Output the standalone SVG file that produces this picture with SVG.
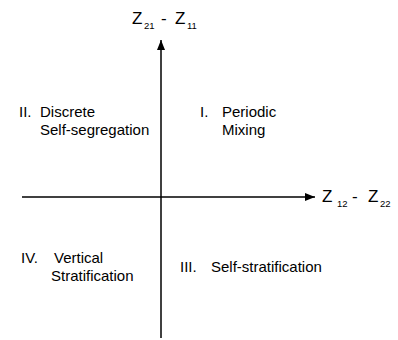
<svg xmlns="http://www.w3.org/2000/svg" width="398" height="340" viewBox="0 0 398 340">
<style>
text{font-family:"Liberation Sans",Arial,sans-serif;fill:#000}
.q{font-size:15px}
.z{font-size:17px}
.s{font-size:9.5px}
.ax{stroke:#000;stroke-width:1.5;fill:none}
</style>
<defs>
<marker id="ah" viewBox="0 0 10 10" refX="10" refY="5" markerWidth="10" markerHeight="10" markerUnits="userSpaceOnUse" orient="auto">
<path d="M0,1 L10,5 L0,9 Z" fill="#000"/>
</marker>
</defs>
<rect width="398" height="340" fill="#fff"/>
<g id="connectors">
<line class="ax" x1="161" y1="338" x2="161" y2="40" marker-end="url(#ah)"/>
<line class="ax" x1="22" y1="197" x2="315" y2="197" marker-end="url(#ah)"/>
</g>
<g id="label-y">
<text x="132" y="24" class="z">Z</text><text x="144" y="29" class="s">21</text>
<text x="161" y="24" class="z">-</text>
<text x="175" y="24" class="z">Z</text><text x="187" y="29" class="s">11</text>
</g>
<g id="label-x">
<text x="322" y="202" class="z">Z</text><text x="337" y="207" class="s">12</text>
<text x="352" y="202" class="z">-</text>
<text x="368" y="202" class="z">Z</text><text x="380" y="207" class="s">22</text>
</g>
<g id="q2">
<text x="19" y="117" class="q">II.</text>
<text x="40" y="117" class="q">Discrete</text>
<text x="40" y="135" class="q">Self-segregation</text>
</g>
<g id="q1">
<text x="200" y="117" class="q">I.</text>
<text x="222" y="117" class="q">Periodic</text>
<text x="222" y="135" class="q">Mixing</text>
</g>
<g id="q4">
<text x="21" y="263" class="q">IV.</text>
<text x="54" y="263" class="q">Vertical</text>
<text x="51" y="281" class="q">Stratification</text>
</g>
<g id="q3">
<text x="180" y="272" class="q">III.</text>
<text x="211" y="272" class="q">Self-stratification</text>
</g>
</svg>
